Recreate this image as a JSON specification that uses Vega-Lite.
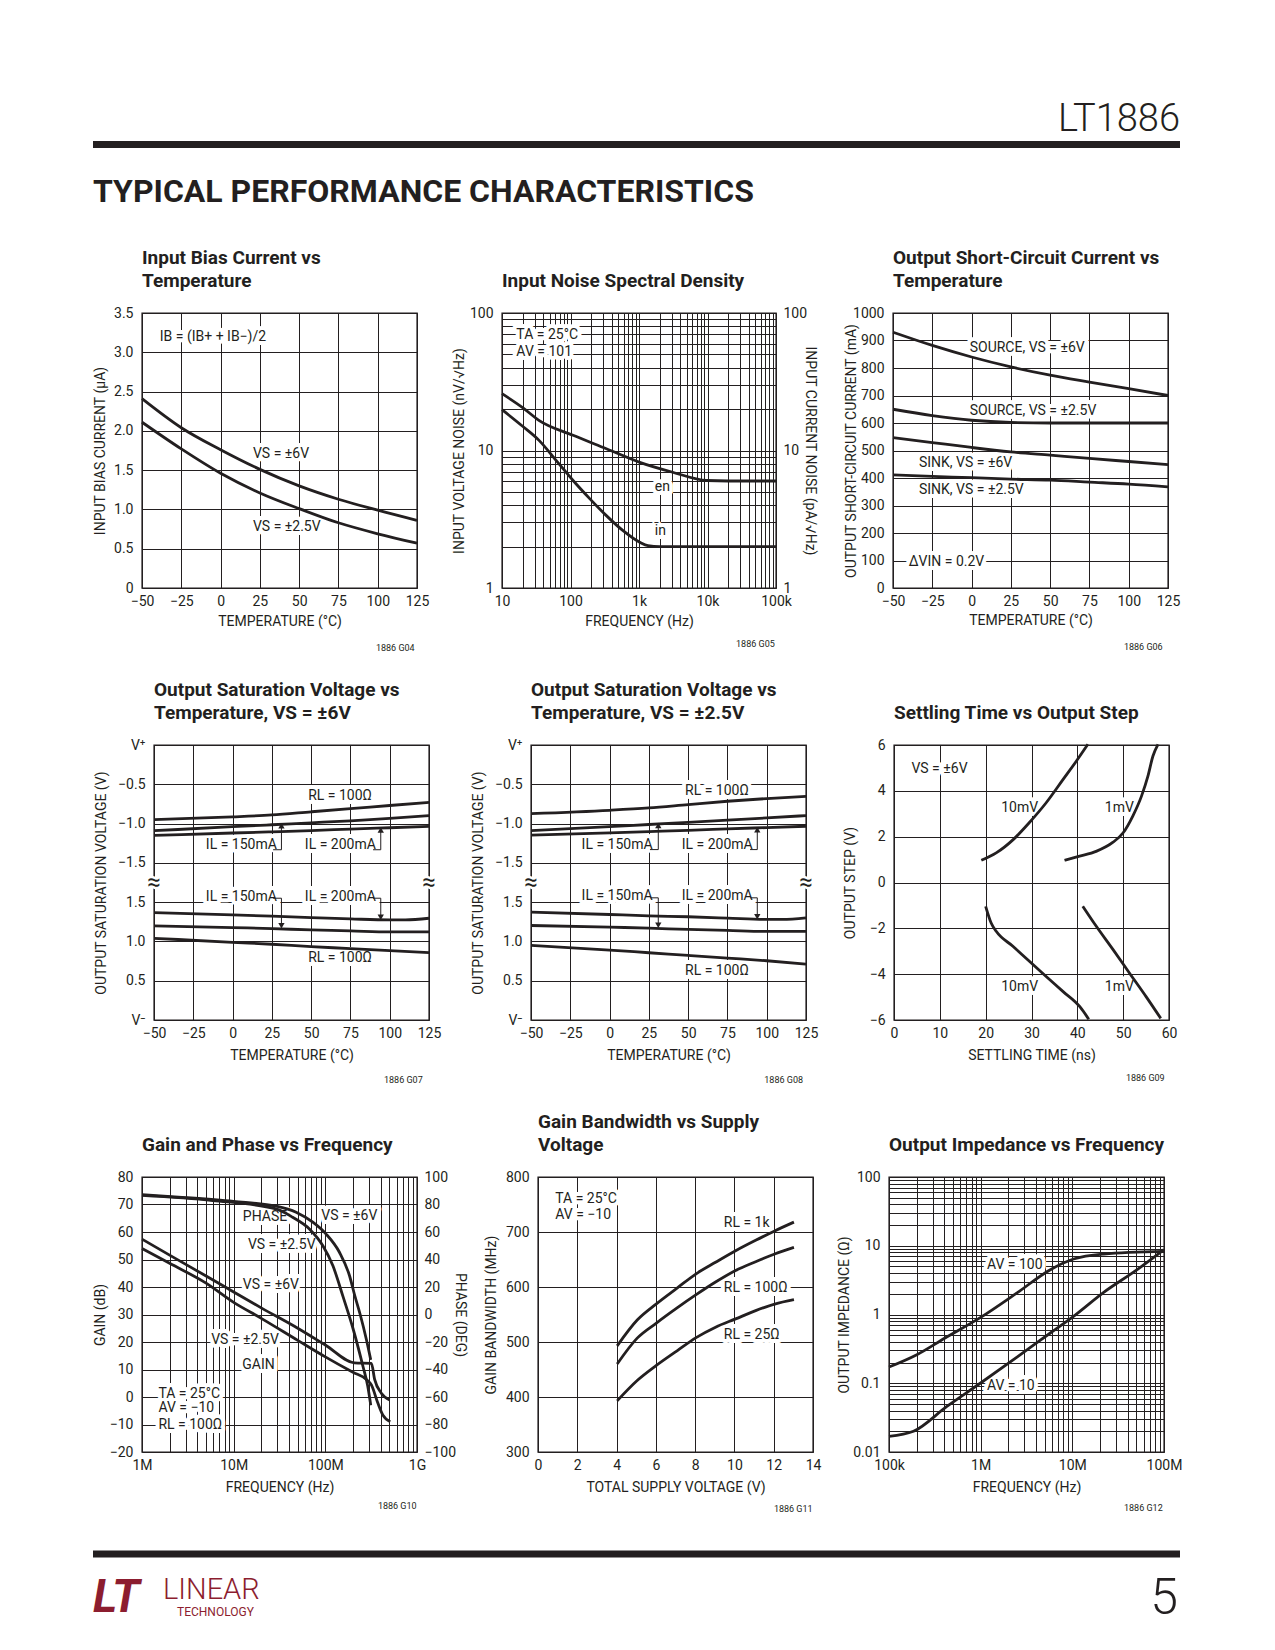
{
"$schema": "https://vega.github.io/schema/vega-lite/v6.json",
"background": "white",
"padding": {"left": 89, "top": 95, "right": 5, "bottom": 5},
"spacing": 26,
"datasets": {
"c1": [{"s":"6V","x":-50,"y":2.41},{"s":"6V","x":-25,"y":2.04},{"s":"6V","x":0,"y":1.76},{"s":"6V","x":25,"y":1.51},{"s":"6V","x":50,"y":1.3},{"s":"6V","x":75,"y":1.13},{"s":"6V","x":100,"y":0.99},{"s":"6V","x":125,"y":0.86},
{"s":"2.5V","x":-50,"y":2.11},{"s":"2.5V","x":-25,"y":1.77},{"s":"2.5V","x":0,"y":1.46},{"s":"2.5V","x":25,"y":1.21},{"s":"2.5V","x":50,"y":1.01},{"s":"2.5V","x":75,"y":0.83},{"s":"2.5V","x":100,"y":0.69},{"s":"2.5V","x":125,"y":0.57}],
"c1_lab": [{"x":-38.7,"y":3.19,"label":"IB = (IB+ + IB−)/2"},{"x":20.6,"y":1.7,"label":"VS = ±6V"},{"x":20.6,"y":0.78,"label":"VS = ±2.5V"}],
"c2_en": [{"x":10,"y":25.9},{"x":20,"y":20.5},{"x":35,"y":16.5},{"x":109,"y":12.9},{"x":334,"y":10.3},{"x":1026,"y":8.2},{"x":3100,"y":6.95},{"x":9700,"y":6.05},{"x":20000,"y":6.0},{"x":100000,"y":6.0}],
"c2_in": [{"x":10,"y":19.8},{"x":20,"y":15},{"x":35,"y":11.8},{"x":62,"y":8.45},{"x":109,"y":6.05},{"x":192,"y":4.45},{"x":334,"y":3.36},{"x":585,"y":2.61},{"x":1026,"y":2.15},{"x":1350,"y":2.03},{"x":2000,"y":2.0},{"x":100000,"y":2.0}],
"c2_lab": [{"x":16.2,"y":68.7,"label":"TA = 25°C"},{"x":16.2,"y":52,"label":"AV = 101"},{"x":1702,"y":5.41,"label":"en"},{"x":1702,"y":2.61,"label":"in"}],
"c3": [{"s":"src6","x":-50,"y":930},{"s":"src6","x":-25,"y":882},{"s":"src6","x":0,"y":840},{"s":"src6","x":25,"y":804},{"s":"src6","x":50,"y":774},{"s":"src6","x":75,"y":749},{"s":"src6","x":100,"y":725},{"s":"src6","x":125,"y":700},
{"s":"src25","x":-50,"y":650},{"s":"src25","x":-25,"y":627},{"s":"src25","x":0,"y":610},{"s":"src25","x":25,"y":602},{"s":"src25","x":50,"y":600},{"s":"src25","x":75,"y":600},{"s":"src25","x":100,"y":600},{"s":"src25","x":125,"y":600},
{"s":"snk6","x":-50,"y":547},{"s":"snk6","x":-25,"y":529},{"s":"snk6","x":0,"y":511},{"s":"snk6","x":25,"y":495},{"s":"snk6","x":50,"y":483},{"s":"snk6","x":75,"y":471},{"s":"snk6","x":100,"y":460},{"s":"snk6","x":125,"y":449},
{"s":"snk25","x":-50,"y":411},{"s":"snk25","x":-25,"y":406},{"s":"snk25","x":0,"y":401},{"s":"snk25","x":25,"y":396},{"s":"snk25","x":50,"y":392},{"s":"snk25","x":75,"y":385},{"s":"snk25","x":100,"y":378},{"s":"snk25","x":125,"y":368}],
"c3_lab": [{"x":-1.2,"y":873,"label":"SOURCE, VS = ±6V"},{"x":-1.2,"y":644,"label":"SOURCE, VS = ±2.5V"},{"x":-33.5,"y":454,"label":"SINK, VS = ±6V"},{"x":-33.5,"y":357,"label":"SINK, VS = ±2.5V"},{"x":-40,"y":94,"label":"ΔVIN = 0.2V"}],
"c4A": [{"s":"RL","x":-50,"y":-0.951},{"s":"RL","x":0,"y":-0.915},{"s":"RL","x":25,"y":-0.89},{"s":"RL","x":50,"y":-0.85},{"s":"RL","x":75,"y":-0.81},{"s":"RL","x":100,"y":-0.77},{"s":"RL","x":125,"y":-0.73},
{"s":"150","x":-50,"y":-1.091},{"s":"150","x":0,"y":-1.04},{"s":"150","x":25,"y":-1.015},{"s":"150","x":50,"y":-0.99},{"s":"150","x":75,"y":-0.965},{"s":"150","x":100,"y":-0.935},{"s":"150","x":125,"y":-0.9},
{"s":"200","x":-50,"y":-1.151},{"s":"200","x":0,"y":-1.12},{"s":"200","x":25,"y":-1.105},{"s":"200","x":50,"y":-1.09},{"s":"200","x":75,"y":-1.07},{"s":"200","x":100,"y":-1.053},{"s":"200","x":125,"y":-1.036}],
"c4B": [{"s":"200","x":-50,"y":1.367},{"s":"200","x":0,"y":1.338},{"s":"200","x":25,"y":1.321},{"s":"200","x":50,"y":1.304},{"s":"200","x":75,"y":1.287},{"s":"200","x":100,"y":1.274},{"s":"200","x":110,"y":1.274},{"s":"200","x":125,"y":1.295},
{"s":"150","x":-50,"y":1.197},{"s":"150","x":0,"y":1.176},{"s":"150","x":25,"y":1.163},{"s":"150","x":50,"y":1.146},{"s":"150","x":75,"y":1.134},{"s":"150","x":100,"y":1.121},{"s":"150","x":125,"y":1.121},
{"s":"RL","x":-50,"y":1.04},{"s":"RL","x":0,"y":0.989},{"s":"RL","x":25,"y":0.964},{"s":"RL","x":50,"y":0.934},{"s":"RL","x":75,"y":0.909},{"s":"RL","x":100,"y":0.883},{"s":"RL","x":125,"y":0.858}],
"c4_labA": [{"x":48.1,"y":-0.654,"label":"RL = 100Ω"},{"x":-17.0,"y":-1.27,"label":"IL = 150mA"},{"x":46.0,"y":-1.27,"label":"IL = 200mA"}],
"c4_ldA": [{"x":25.8,"y":-1.333,"x2":31.1,"y2":-1.333},{"x":31.1,"y":-1.333,"x2":31.1,"y2":-1.03},{"x":89.4,"y":-1.333,"x2":94.3,"y2":-1.333},{"x":94.3,"y":-1.333,"x2":94.3,"y2":-1.08}],
"c4_arA": [{"x":31.1,"y":-1.027},{"x":94.3,"y":-1.082}],
"c4_labB": [{"x":-17.0,"y":1.571,"label":"IL = 150mA"},{"x":46.0,"y":1.571,"label":"IL = 200mA"},{"x":48.1,"y":0.786,"label":"RL = 100Ω"}],
"c4_ldB": [{"x":25.8,"y":1.55,"x2":31.1,"y2":1.55},{"x":31.1,"y":1.55,"x2":31.1,"y2":1.2},{"x":89.4,"y":1.55,"x2":94.3,"y2":1.55},{"x":94.3,"y":1.55,"x2":94.3,"y2":1.307}],
"c4_arB": [{"x":31.1,"y":1.2},{"x":94.3,"y":1.307}],
"brk": [{"x":-50,"y":-1.75,"label":"≈"},{"x":125,"y":-1.75,"label":"≈"}],
"c5A": [{"s":"RL","x":-50,"y":-0.873},{"s":"RL","x":0,"y":-0.831},{"s":"RL","x":25,"y":-0.801},{"s":"RL","x":50,"y":-0.758},{"s":"RL","x":75,"y":-0.716},{"s":"RL","x":100,"y":-0.682},{"s":"RL","x":125,"y":-0.653},
{"s":"150","x":-50,"y":-1.089},{"s":"150","x":0,"y":-1.04},{"s":"150","x":25,"y":-1.012},{"s":"150","x":50,"y":-0.985},{"s":"150","x":75,"y":-0.957},{"s":"150","x":100,"y":-0.928},{"s":"150","x":125,"y":-0.898},
{"s":"200","x":-50,"y":-1.148},{"s":"200","x":0,"y":-1.118},{"s":"200","x":25,"y":-1.102},{"s":"200","x":50,"y":-1.087},{"s":"200","x":75,"y":-1.068},{"s":"200","x":100,"y":-1.051},{"s":"200","x":125,"y":-1.034}],
"c5B": [{"s":"200","x":-50,"y":1.373},{"s":"200","x":0,"y":1.343},{"s":"200","x":25,"y":1.326},{"s":"200","x":50,"y":1.314},{"s":"200","x":75,"y":1.297},{"s":"200","x":100,"y":1.28},{"s":"200","x":110,"y":1.28},{"s":"200","x":125,"y":1.301},
{"s":"150","x":-50,"y":1.203},{"s":"150","x":0,"y":1.182},{"s":"150","x":25,"y":1.169},{"s":"150","x":50,"y":1.153},{"s":"150","x":75,"y":1.14},{"s":"150","x":100,"y":1.127},{"s":"150","x":125,"y":1.127},
{"s":"RL","x":-50,"y":0.949},{"s":"RL","x":0,"y":0.89},{"s":"RL","x":25,"y":0.856},{"s":"RL","x":50,"y":0.822},{"s":"RL","x":75,"y":0.788},{"s":"RL","x":100,"y":0.754},{"s":"RL","x":125,"y":0.712}],
"c5_labA": [{"x":48.0,"y":-0.589,"label":"RL = 100Ω"},{"x":-17.8,"y":-1.267,"label":"IL = 150mA"},{"x":45.9,"y":-1.267,"label":"IL = 200mA"}],
"c5_ldA": [{"x":25.7,"y":-1.331,"x2":31.0,"y2":-1.331},{"x":31.0,"y":-1.331,"x2":31.0,"y2":-1.03},{"x":89.4,"y":-1.331,"x2":94.0,"y2":-1.331},{"x":94.0,"y":-1.331,"x2":94.0,"y2":-1.08}],
"c5_arA": [{"x":31.0,"y":-1.025},{"x":94.0,"y":-1.08}],
"c5_labB": [{"x":-17.8,"y":1.576,"label":"IL = 150mA"},{"x":45.9,"y":1.576,"label":"IL = 200mA"},{"x":48.0,"y":0.623,"label":"RL = 100Ω"}],
"c5_ldB": [{"x":25.7,"y":1.555,"x2":31.0,"y2":1.555},{"x":31.0,"y":1.555,"x2":31.0,"y2":1.207},{"x":89.4,"y":1.555,"x2":94.0,"y2":1.555},{"x":94.0,"y":1.555,"x2":94.0,"y2":1.313}],
"c5_arB": [{"x":31.0,"y":1.207},{"x":94.0,"y":1.313}],
"c6": [{"s":"10up","x":19.05,"y":0.97},{"s":"10up","x":22.3,"y":1.29},{"s":"10up","x":26.0,"y":1.87},{"s":"10up","x":29.6,"y":2.63},{"s":"10up","x":33.2,"y":3.48},{"s":"10up","x":36.9,"y":4.5},{"s":"10up","x":39.8,"y":5.3},{"s":"10up","x":42.3,"y":6.03},
{"s":"1up","x":37.2,"y":0.97},{"s":"1up","x":40.5,"y":1.15},{"s":"1up","x":44.1,"y":1.36},{"s":"1up","x":47.8,"y":1.76},{"s":"1up","x":50.0,"y":2.17},{"s":"1up","x":52.1,"y":2.9},{"s":"1up","x":54.0,"y":3.77},{"s":"1up","x":55.4,"y":4.64},{"s":"1up","x":56.5,"y":5.52},{"s":"1up","x":57.6,"y":6.03},
{"s":"10dn","x":20.0,"y":-1.04},{"s":"10dn","x":21.2,"y":-1.77},{"s":"10dn","x":22.3,"y":-2.13},{"s":"10dn","x":26.0,"y":-2.79},{"s":"10dn","x":29.6,"y":-3.45},{"s":"10dn","x":33.2,"y":-4.1},{"s":"10dn","x":36.9,"y":-4.76},{"s":"10dn","x":40.5,"y":-5.41},{"s":"10dn","x":42.5,"y":-5.97},
{"s":"1dn","x":41.2,"y":-1.04},{"s":"1dn","x":44.1,"y":-1.9},{"s":"1dn","x":47.8,"y":-2.93},{"s":"1dn","x":51.4,"y":-3.96},{"s":"1dn","x":55.0,"y":-4.98},{"s":"1dn","x":58.2,"y":-5.93}],
"c6_lab": [{"x":3.8,"y":4.94,"label":"VS = ±6V"},{"x":23.4,"y":3.26,"label":"10mV"},{"x":46.0,"y":3.26,"label":"1mV"},{"x":23.4,"y":-4.54,"label":"10mV"},{"x":46.0,"y":-4.54,"label":"1mV"}],
"c7g": [{"s":"g6","x":1000000,"y":57.4},{"s":"g6","x":2000000,"y":51.6},{"s":"g6","x":5000000,"y":44},{"s":"g6","x":10000000,"y":38.2},{"s":"g6","x":20000000,"y":32.4},{"s":"g6","x":50000000,"y":25},{"s":"g6","x":100000000,"y":18.9},{"s":"g6","x":208000000,"y":12.4},{"s":"g6","x":318000000,"y":12.2},{"s":"g6","x":345000000,"y":6.4},{"s":"g6","x":408000000,"y":1.4},{"s":"g6","x":504000000,"y":-1.1},
{"s":"g25","x":1000000,"y":54},{"s":"g25","x":2000000,"y":48.6},{"s":"g25","x":5000000,"y":41.4},{"s":"g25","x":10000000,"y":34.4},{"s":"g25","x":20000000,"y":28.6},{"s":"g25","x":50000000,"y":20.6},{"s":"g25","x":100000000,"y":14.6},{"s":"g25","x":200000000,"y":9.0},{"s":"g25","x":280000000,"y":6.4},{"s":"g25","x":318000000,"y":4.4},{"s":"g25","x":375000000,"y":-2.3},{"s":"g25","x":425000000,"y":-6.6},{"s":"g25","x":511000000,"y":-9}],
"c7p": [{"s":"p6","x":1000000,"y":87.1},{"s":"p6","x":3000000,"y":85},{"s":"p6","x":10000000,"y":82.2},{"s":"p6","x":29000000,"y":78.8},{"s":"p6","x":48000000,"y":74.4},{"s":"p6","x":73000000,"y":67.1},{"s":"p6","x":102000000,"y":58.5},{"s":"p6","x":143000000,"y":45.1},{"s":"p6","x":184000000,"y":28},{"s":"p6","x":209000000,"y":14},{"s":"p6","x":240000000,"y":0},{"s":"p6","x":280000000,"y":-18},{"s":"p6","x":313000000,"y":-33},
{"s":"p25","x":1000000,"y":86.6},{"s":"p25","x":5900000,"y":82.9},{"s":"p25","x":29000000,"y":76.8},{"s":"p25","x":44000000,"y":70.7},{"s":"p25","x":67000000,"y":62.2},{"s":"p25","x":94000000,"y":50},{"s":"p25","x":121000000,"y":35.4},{"s":"p25","x":156000000,"y":13},{"s":"p25","x":200000000,"y":-10},{"s":"p25","x":258000000,"y":-38},{"s":"p25","x":290000000,"y":-52},{"s":"p25","x":313000000,"y":-66}],
"c7_lab": [{"x":12600000,"y":65.4,"label":"PHASE"},{"x":90200000,"y":65.7,"label":"VS = ±6V"},{"x":14300000,"y":55.2,"label":"VS = ±2.5V"},{"x":12600000,"y":40.6,"label":"VS = ±6V"},{"x":5680000,"y":20.9,"label":"VS = ±2.5V"},{"x":12400000,"y":11.5,"label":"GAIN"},{"x":1510000,"y":1.1,"label":"TA = 25°C"},{"x":1510000,"y":-3.9,"label":"AV = −10"},{"x":1510000,"y":-10.2,"label":"RL = 100Ω"}],
"c8": [{"s":"1k","x":4.03,"y":493},{"s":"1k","x":5.05,"y":540},{"s":"1k","x":6.01,"y":569},{"s":"1k","x":7.08,"y":598},{"s":"1k","x":8.05,"y":624},{"s":"1k","x":9.04,"y":645},{"s":"1k","x":10.06,"y":666},{"s":"1k","x":11.08,"y":685},{"s":"1k","x":12.05,"y":702},{"s":"1k","x":13.03,"y":718},
{"s":"100","x":4.03,"y":460},{"s":"100","x":5.05,"y":507},{"s":"100","x":6.01,"y":534},{"s":"100","x":7.08,"y":562},{"s":"100","x":8.05,"y":586},{"s":"100","x":9.04,"y":609},{"s":"100","x":10.06,"y":630},{"s":"100","x":11.08,"y":646},{"s":"100","x":12.05,"y":660},{"s":"100","x":13.03,"y":672},
{"s":"25","x":4.03,"y":393},{"s":"25","x":5.05,"y":430},{"s":"25","x":6.01,"y":457},{"s":"25","x":7.08,"y":484},{"s":"25","x":8.05,"y":508},{"s":"25","x":9.04,"y":527},{"s":"25","x":10.06,"y":542},{"s":"25","x":11.08,"y":557},{"s":"25","x":12.05,"y":569},{"s":"25","x":13.03,"y":577}],
"c8_lab": [{"x":0.88,"y":760.5,"label":"TA = 25°C"},{"x":0.88,"y":730.1,"label":"AV = −10"},{"x":9.46,"y":716.2,"label":"RL = 1k"},{"x":9.46,"y":597.7,"label":"RL = 100Ω"},{"x":9.46,"y":512.6,"label":"RL = 25Ω"}],
"c9": [{"s":"100","x":100000,"y":0.172},{"s":"100","x":201000,"y":0.26},{"s":"100","x":409000,"y":0.455},{"s":"100","x":989000,"y":0.9},{"s":"100","x":2490000,"y":2.06},{"s":"100","x":5760000,"y":4.49},{"s":"100","x":10300000,"y":6.41},{"s":"100","x":22000000,"y":7.59},{"s":"100","x":100000000,"y":8.3},
{"s":"10","x":100000,"y":0.0169},{"s":"10","x":185000,"y":0.02},{"s":"10","x":428000,"y":0.046},{"s":"10","x":990000,"y":0.1},{"s":"10","x":2490000,"y":0.24},{"s":"10","x":5760000,"y":0.538},{"s":"10","x":10300000,"y":0.94},{"s":"10","x":22000000,"y":2.1},{"s":"10","x":51000000,"y":4.49},{"s":"10","x":100000000,"y":8.77}],
"c9_lab": [{"x":1170000,"y":5.31,"label":"AV = 100"},{"x":1170000,"y":0.0902,"label":"AV = 10"}]
},
"vconcat": [
{
"width": 1039, "height": 127, "view": {"stroke": null},
"encoding": {
"x": {"field": "x", "type": "quantitative", "scale": {"domain": [48, 1087], "nice": false, "zero": false}, "axis": null},
"y": {"field": "y", "type": "quantitative", "scale": {"domain": [127, 0], "nice": false, "zero": false}, "axis": null}},
"layer": [
{"data": {"values": [{"x": 0, "x2": 1087, "y": 49.5}]}, "mark": {"type": "rule", "strokeWidth": 7, "color": "#231f20"}, "encoding": {"x2": {"field": "x2"}}},
{"data": {"values": [{"x": 1087, "y": 36, "label": "LT1886"}]}, "mark": {"type": "text", "align": "right", "baseline": "alphabetic", "fontSize": 38, "fontWeight": 300, "color": "#231f20"}, "encoding": {"text": {"field": "label"}}},
{"data": {"values": [{"x": 0, "y": 107, "label": "TYPICAL PERFORMANCE CHARACTERISTICS"}]}, "mark": {"type": "text", "align": "left", "baseline": "alphabetic", "fontSize": 32, "fontWeight": "bold", "color": "#231f20"}, "encoding": {"text": {"field": "label"}}}
]},
{
"bounds": "flush", "spacing": 0,
"hconcat": [
{"width": 1, "height": 10, "data": {"values": []}, "mark": {"type": "point", "opacity": 0}, "view": {"stroke": null}},
{
"width": 275, "height": 275,
"title": {"text": ["Input Bias Current vs", "Temperature"]},
"encoding": {
"x": {"field": "x", "type": "quantitative", "scale": {"domain": [-50, 125], "nice": false, "zero": false}, "axis": {"title": "TEMPERATURE (°C)", "values": [-50,-25,0,25,50,75,100,125], "minExtent": 26, "maxExtent": 26}},
"y": {"field": "y", "type": "quantitative", "scale": {"domain": [0, 3.5], "nice": false, "zero": false}, "axis": {"title": "INPUT BIAS CURRENT (µA)", "values": [0,0.5,1,1.5,2,2.5,3,3.5], "labelExpr": "datum.value == 0 ? '0' : format(datum.value, '.1f')", "minExtent": 35, "maxExtent": 35}}},
"layer": [
{"data": {"name": "c1_lab"}, "mark": {"type": "text", "align": "left", "baseline": "middle", "fontSize": 14, "fill": "white", "stroke": "white", "strokeWidth": 8, "strokeJoin": "round"}, "encoding": {"text": {"field": "label"}}},
{"data": {"name": "c1"}, "mark": {"type": "line", "interpolate": "monotone"}, "encoding": {"detail": {"field": "s"}}},
{"data": {"name": "c1_lab"}, "mark": {"type": "text", "align": "left", "baseline": "middle", "fontSize": 14}, "encoding": {"text": {"field": "label"}}},
{"data": {"values": [{"x": 123.5, "y": -0.764, "label": "1886 G04"}]}, "mark": {"type": "text", "align": "right", "baseline": "middle", "fontSize": 9}, "encoding": {"text": {"field": "label"}}}
]},
{"width": 85, "height": 10, "data": {"values": []}, "mark": {"type": "point", "opacity": 0}, "view": {"stroke": null}},
{
"width": 274, "height": 275,
"title": {"text": "Input Noise Spectral Density"},
"encoding": {
"x": {"field": "x", "type": "quantitative", "scale": {"type": "log", "domain": [10, 100000], "nice": false}, "axis": {"title": "FREQUENCY (Hz)", "values": [10,20,30,40,50,60,70,80,90,100,200,300,400,500,600,700,800,900,1000,2000,3000,4000,5000,6000,7000,8000,9000,10000,20000,30000,40000,50000,60000,70000,80000,90000,100000], "labelExpr": "datum.value == 10 ? '10' : datum.value == 100 ? '100' : datum.value == 1000 ? '1k' : datum.value == 10000 ? '10k' : datum.value == 100000 ? '100k' : ''", "minExtent": 26, "maxExtent": 26}}},
"resolve": {"scale": {"y": "independent"}},
"layer": [
{
"encoding": {"y": {"field": "y", "type": "quantitative", "scale": {"type": "log", "domain": [1, 100], "nice": false}, "axis": {"orient": "left", "title": "INPUT VOLTAGE NOISE (nV/√Hz)", "values": [1,2,3,4,5,6,7,8,9,10,20,30,40,50,60,70,80,90,100], "labelExpr": "datum.value == 1 ? '1' : datum.value == 10 ? '10' : datum.value == 100 ? '100' : ''", "minExtent": 36, "maxExtent": 36}}},
"layer": [
{"data": {"name": "c2_lab"}, "mark": {"type": "text", "align": "left", "baseline": "middle", "fontSize": 14, "fill": "white", "stroke": "white", "strokeWidth": 8, "strokeJoin": "round"}, "encoding": {"text": {"field": "label"}}},
{"data": {"name": "c2_en"}, "mark": {"type": "line", "interpolate": "monotone"}, "encoding": {}},
{"data": {"name": "c2_lab"}, "mark": {"type": "text", "align": "left", "baseline": "middle", "fontSize": 14}, "encoding": {"text": {"field": "label"}}},
{"data": {"values": [{"x": 95900, "y": 0.391, "label": "1886 G05"}]}, "mark": {"type": "text", "align": "right", "baseline": "middle", "fontSize": 9}, "encoding": {"text": {"field": "label"}}}
]},
{
"encoding": {"y": {"field": "y", "type": "quantitative", "scale": {"type": "log", "domain": [1, 100], "nice": false}, "axis": {"orient": "right", "title": "INPUT CURRENT NOISE (pA/√Hz)", "values": [1,10,100], "grid": false, "minExtent": 26, "maxExtent": 26}}},
"layer": [
{"data": {"name": "c2_in"}, "mark": {"type": "line", "interpolate": "monotone"}, "encoding": {}}
]}
]},
{"width": 117, "height": 10, "data": {"values": []}, "mark": {"type": "point", "opacity": 0}, "view": {"stroke": null}},
{
"width": 275, "height": 275,
"title": {"text": ["Output Short-Circuit Current vs", "Temperature"]},
"encoding": {
"x": {"field": "x", "type": "quantitative", "scale": {"domain": [-50, 125], "nice": false, "zero": false}, "axis": {"title": "TEMPERATURE (°C)", "values": [-50,-25,0,25,50,75,100,125], "minExtent": 25, "maxExtent": 25}},
"y": {"field": "y", "type": "quantitative", "scale": {"domain": [0, 1000], "nice": false, "zero": false}, "axis": {"title": "OUTPUT SHORT-CIRCUIT CURRENT (mA)", "values": [0,100,200,300,400,500,600,700,800,900,1000], "format": "d", "minExtent": 35, "maxExtent": 35}}},
"layer": [
{"data": {"name": "c3_lab"}, "mark": {"type": "text", "align": "left", "baseline": "middle", "fontSize": 14, "fill": "white", "stroke": "white", "strokeWidth": 8, "strokeJoin": "round"}, "encoding": {"text": {"field": "label"}}},
{"data": {"name": "c3"}, "mark": {"type": "line", "interpolate": "monotone"}, "encoding": {"detail": {"field": "s"}}},
{"data": {"name": "c3_lab"}, "mark": {"type": "text", "align": "left", "baseline": "middle", "fontSize": 14}, "encoding": {"text": {"field": "label"}}},
{"data": {"values": [{"x": 121.6, "y": -214, "label": "1886 G06"}]}, "mark": {"type": "text", "align": "right", "baseline": "middle", "fontSize": 9}, "encoding": {"text": {"field": "label"}}}
]}
]},
{
"bounds": "flush", "spacing": 0,
"hconcat": [
{"width": 13, "height": 10, "data": {"values": []}, "mark": {"type": "point", "opacity": 0}, "view": {"stroke": null}},
{
"width": 275, "height": 275,
"title": {"text": ["Output Saturation Voltage vs", "Temperature, VS = ±6V"]},
"encoding": {
"x": {"field": "x", "type": "quantitative", "scale": {"domain": [-50, 125], "nice": false, "zero": false}, "axis": {"title": "TEMPERATURE (°C)", "values": [-50,-25,0,25,50,75,100,125], "minExtent": 28, "maxExtent": 28}}},
"resolve": {"scale": {"y": "independent"}},
"layer": [
{
"encoding": {"y": {"field": "y", "type": "quantitative", "scale": {"domain": [-3.5, 0], "nice": false, "zero": false}, "axis": {"orient": "left", "title": "OUTPUT SATURATION VOLTAGE (V)", "values": [-3.5,-3,-2.5,-2,-1.5,-1,-0.5,0], "labelExpr": "datum.value == 0 ? 'V⁺' : datum.value == -0.5 ? '−0.5' : datum.value == -1 ? '−1.0' : datum.value == -1.5 ? '−1.5' : datum.value == -2 ? '1.5' : datum.value == -2.5 ? '1.0' : datum.value == -3 ? '0.5' : 'V⁻'", "minExtent": 46, "maxExtent": 46}}},
"layer": [
{"data": {"name": "c4_labA"}, "mark": {"type": "text", "align": "left", "baseline": "middle", "fontSize": 14, "fill": "white", "stroke": "white", "strokeWidth": 8, "strokeJoin": "round"}, "encoding": {"text": {"field": "label"}}},
{"data": {"name": "brk"}, "mark": {"type": "text", "align": "center", "baseline": "middle", "fontSize": 24, "fill": "white", "stroke": "white", "strokeWidth": 5}, "encoding": {"text": {"field": "label"}}},
{"data": {"name": "c4A"}, "mark": {"type": "line", "interpolate": "monotone"}, "encoding": {"detail": {"field": "s"}}},
{"data": {"name": "c4_ldA"}, "mark": {"type": "rule", "strokeWidth": 1}, "encoding": {"x2": {"field": "x2"}, "y2": {"field": "y2"}}},
{"data": {"name": "c4_arA"}, "mark": {"type": "point", "shape": "triangle-up", "filled": true, "size": 40, "opacity": 1, "color": "#231f20"}, "encoding": {}},
{"data": {"name": "c4_labA"}, "mark": {"type": "text", "align": "left", "baseline": "middle", "fontSize": 14}, "encoding": {"text": {"field": "label"}}},
{"data": {"name": "brk"}, "mark": {"type": "text", "align": "center", "baseline": "middle", "fontSize": 24}, "encoding": {"text": {"field": "label"}}},
{"data": {"values": [{"x": 121, "y": -4.266, "label": "1886 G07"}]}, "mark": {"type": "text", "align": "right", "baseline": "middle", "fontSize": 9}, "encoding": {"text": {"field": "label"}}}
]},
{
"encoding": {"y": {"field": "y", "type": "quantitative", "scale": {"domain": [0, 3.5], "nice": false, "zero": false}, "axis": null}},
"layer": [
{"data": {"name": "c4_labB"}, "mark": {"type": "text", "align": "left", "baseline": "middle", "fontSize": 14, "fill": "white", "stroke": "white", "strokeWidth": 8, "strokeJoin": "round"}, "encoding": {"text": {"field": "label"}}},
{"data": {"name": "c4B"}, "mark": {"type": "line", "interpolate": "monotone"}, "encoding": {"detail": {"field": "s"}}},
{"data": {"name": "c4_ldB"}, "mark": {"type": "rule", "strokeWidth": 1}, "encoding": {"x2": {"field": "x2"}, "y2": {"field": "y2"}}},
{"data": {"name": "c4_arB"}, "mark": {"type": "point", "shape": "triangle-down", "filled": true, "size": 40, "opacity": 1, "color": "#231f20"}, "encoding": {}},
{"data": {"name": "c4_labB"}, "mark": {"type": "text", "align": "left", "baseline": "middle", "fontSize": 14}, "encoding": {"text": {"field": "label"}}}
]}
]},
{"width": 102, "height": 10, "data": {"values": []}, "mark": {"type": "point", "opacity": 0}, "view": {"stroke": null}},
{
"width": 275, "height": 275,
"title": {"text": ["Output Saturation Voltage vs", "Temperature, VS = ±2.5V"]},
"encoding": {
"x": {"field": "x", "type": "quantitative", "scale": {"domain": [-50, 125], "nice": false, "zero": false}, "axis": {"title": "TEMPERATURE (°C)", "values": [-50,-25,0,25,50,75,100,125], "minExtent": 28, "maxExtent": 28}}},
"resolve": {"scale": {"y": "independent"}},
"layer": [
{
"encoding": {"y": {"field": "y", "type": "quantitative", "scale": {"domain": [-3.5, 0], "nice": false, "zero": false}, "axis": {"orient": "left", "title": "OUTPUT SATURATION VOLTAGE (V)", "values": [-3.5,-3,-2.5,-2,-1.5,-1,-0.5,0], "labelExpr": "datum.value == 0 ? 'V⁺' : datum.value == -0.5 ? '−0.5' : datum.value == -1 ? '−1.0' : datum.value == -1.5 ? '−1.5' : datum.value == -2 ? '1.5' : datum.value == -2.5 ? '1.0' : datum.value == -3 ? '0.5' : 'V⁻'", "minExtent": 46, "maxExtent": 46}}},
"layer": [
{"data": {"name": "c5_labA"}, "mark": {"type": "text", "align": "left", "baseline": "middle", "fontSize": 14, "fill": "white", "stroke": "white", "strokeWidth": 8, "strokeJoin": "round"}, "encoding": {"text": {"field": "label"}}},
{"data": {"name": "brk"}, "mark": {"type": "text", "align": "center", "baseline": "middle", "fontSize": 24, "fill": "white", "stroke": "white", "strokeWidth": 5}, "encoding": {"text": {"field": "label"}}},
{"data": {"name": "c5A"}, "mark": {"type": "line", "interpolate": "monotone"}, "encoding": {"detail": {"field": "s"}}},
{"data": {"name": "c5_ldA"}, "mark": {"type": "rule", "strokeWidth": 1}, "encoding": {"x2": {"field": "x2"}, "y2": {"field": "y2"}}},
{"data": {"name": "c5_arA"}, "mark": {"type": "point", "shape": "triangle-up", "filled": true, "size": 40, "opacity": 1, "color": "#231f20"}, "encoding": {}},
{"data": {"name": "c5_labA"}, "mark": {"type": "text", "align": "left", "baseline": "middle", "fontSize": 14}, "encoding": {"text": {"field": "label"}}},
{"data": {"name": "brk"}, "mark": {"type": "text", "align": "center", "baseline": "middle", "fontSize": 24}, "encoding": {"text": {"field": "label"}}},
{"data": {"values": [{"x": 123.1, "y": -4.266, "label": "1886 G08"}]}, "mark": {"type": "text", "align": "right", "baseline": "middle", "fontSize": 9}, "encoding": {"text": {"field": "label"}}}
]},
{
"encoding": {"y": {"field": "y", "type": "quantitative", "scale": {"domain": [0, 3.5], "nice": false, "zero": false}, "axis": null}},
"layer": [
{"data": {"name": "c5_labB"}, "mark": {"type": "text", "align": "left", "baseline": "middle", "fontSize": 14, "fill": "white", "stroke": "white", "strokeWidth": 8, "strokeJoin": "round"}, "encoding": {"text": {"field": "label"}}},
{"data": {"name": "c5B"}, "mark": {"type": "line", "interpolate": "monotone"}, "encoding": {"detail": {"field": "s"}}},
{"data": {"name": "c5_ldB"}, "mark": {"type": "rule", "strokeWidth": 1}, "encoding": {"x2": {"field": "x2"}, "y2": {"field": "y2"}}},
{"data": {"name": "c5_arB"}, "mark": {"type": "point", "shape": "triangle-down", "filled": true, "size": 40, "opacity": 1, "color": "#231f20"}, "encoding": {}},
{"data": {"name": "c5_labB"}, "mark": {"type": "text", "align": "left", "baseline": "middle", "fontSize": 14}, "encoding": {"text": {"field": "label"}}}
]}
]},
{"width": 88, "height": 10, "data": {"values": []}, "mark": {"type": "point", "opacity": 0}, "view": {"stroke": null}},
{
"width": 275, "height": 275,
"title": {"text": "Settling Time vs Output Step"},
"encoding": {
"x": {"field": "x", "type": "quantitative", "scale": {"domain": [0, 60], "nice": false, "zero": false}, "axis": {"title": "SETTLING TIME (ns)", "values": [0,10,20,30,40,50,60], "minExtent": 28, "maxExtent": 28}},
"y": {"field": "y", "type": "quantitative", "scale": {"domain": [-6, 6], "nice": false, "zero": false}, "axis": {"title": "OUTPUT STEP (V)", "values": [-6,-4,-2,0,2,4,6], "minExtent": 37, "maxExtent": 37}}},
"layer": [
{"data": {"name": "c6_lab"}, "mark": {"type": "text", "align": "left", "baseline": "middle", "fontSize": 14, "fill": "white", "stroke": "white", "strokeWidth": 8, "strokeJoin": "round"}, "encoding": {"text": {"field": "label"}}},
{"data": {"name": "c6"}, "mark": {"type": "line", "interpolate": "monotone"}, "encoding": {"detail": {"field": "s"}}},
{"data": {"name": "c6_lab"}, "mark": {"type": "text", "align": "left", "baseline": "middle", "fontSize": 14}, "encoding": {"text": {"field": "label"}}},
{"data": {"values": [{"x": 59.05, "y": -8.53, "label": "1886 G09"}]}, "mark": {"type": "text", "align": "right", "baseline": "middle", "fontSize": 9}, "encoding": {"text": {"field": "label"}}}
]}
]},
{
"bounds": "flush", "spacing": 0,
"hconcat": [
{"width": 1, "height": 10, "data": {"values": []}, "mark": {"type": "point", "opacity": 0}, "view": {"stroke": null}},
{
"width": 275, "height": 275,
"title": {"text": "Gain and Phase vs Frequency"},
"encoding": {
"x": {"field": "x", "type": "quantitative", "scale": {"type": "log", "domain": [1000000, 1000000000], "nice": false}, "axis": {"title": "FREQUENCY (Hz)", "values": [1000000,2000000,3000000,4000000,5000000,6000000,7000000,8000000,9000000,10000000,20000000,30000000,40000000,50000000,60000000,70000000,80000000,90000000,100000000,200000000,300000000,400000000,500000000,600000000,700000000,800000000,900000000,1000000000], "labelExpr": "datum.value == 1000000 ? '1M' : datum.value == 10000000 ? '10M' : datum.value == 100000000 ? '100M' : datum.value == 1000000000 ? '1G' : ''", "minExtent": 28, "maxExtent": 28}}},
"resolve": {"scale": {"y": "independent"}},
"layer": [
{
"encoding": {"y": {"field": "y", "type": "quantitative", "scale": {"domain": [-20, 80], "nice": false, "zero": false}, "axis": {"orient": "left", "title": "GAIN (dB)", "values": [-20,-10,0,10,20,30,40,50,60,70,80], "minExtent": 35, "maxExtent": 35}}},
"layer": [
{"data": {"name": "c7_lab"}, "mark": {"type": "text", "align": "left", "baseline": "middle", "fontSize": 14, "fill": "white", "stroke": "white", "strokeWidth": 8, "strokeJoin": "round"}, "encoding": {"text": {"field": "label"}}},
{"data": {"name": "c7g"}, "mark": {"type": "line", "interpolate": "monotone"}, "encoding": {"detail": {"field": "s"}}},
{"data": {"name": "c7_lab"}, "mark": {"type": "text", "align": "left", "baseline": "middle", "fontSize": 14}, "encoding": {"text": {"field": "label"}}},
{"data": {"values": [{"x": 990000000, "y": -39.5, "label": "1886 G10"}]}, "mark": {"type": "text", "align": "right", "baseline": "middle", "fontSize": 9}, "encoding": {"text": {"field": "label"}}}
]},
{
"encoding": {"y": {"field": "y", "type": "quantitative", "scale": {"domain": [-100, 100], "nice": false, "zero": false}, "axis": {"orient": "right", "title": "PHASE (DEG)", "values": [-100,-80,-60,-40,-20,0,20,40,60,80,100], "grid": false, "minExtent": 35, "maxExtent": 35}}},
"layer": [
{"data": {"name": "c7p"}, "mark": {"type": "line", "interpolate": "monotone"}, "encoding": {"detail": {"field": "s"}}}
]}
]},
{"width": 121, "height": 10, "data": {"values": []}, "mark": {"type": "point", "opacity": 0}, "view": {"stroke": null}},
{
"width": 275, "height": 275,
"title": {"text": ["Gain Bandwidth vs Supply", "Voltage"]},
"encoding": {
"x": {"field": "x", "type": "quantitative", "scale": {"domain": [0, 14], "nice": false, "zero": false}, "axis": {"title": "TOTAL SUPPLY VOLTAGE (V)", "values": [0,2,4,6,8,10,12,14], "minExtent": 28, "maxExtent": 28}},
"y": {"field": "y", "type": "quantitative", "scale": {"domain": [300, 800], "nice": false, "zero": false}, "axis": {"title": "GAIN BANDWIDTH (MHz)", "values": [300,400,500,600,700,800], "minExtent": 40, "maxExtent": 40}}},
"layer": [
{"data": {"name": "c8_lab"}, "mark": {"type": "text", "align": "left", "baseline": "middle", "fontSize": 14, "fill": "white", "stroke": "white", "strokeWidth": 8, "strokeJoin": "round"}, "encoding": {"text": {"field": "label"}}},
{"data": {"name": "c8"}, "mark": {"type": "line", "interpolate": "monotone"}, "encoding": {"detail": {"field": "s"}}},
{"data": {"name": "c8_lab"}, "mark": {"type": "text", "align": "left", "baseline": "middle", "fontSize": 14}, "encoding": {"text": {"field": "label"}}},
{"data": {"values": [{"x": 13.98, "y": 196, "label": "1886 G11"}]}, "mark": {"type": "text", "align": "right", "baseline": "middle", "fontSize": 9}, "encoding": {"text": {"field": "label"}}}
]},
{"width": 76, "height": 10, "data": {"values": []}, "mark": {"type": "point", "opacity": 0}, "view": {"stroke": null}},
{
"width": 275, "height": 275,
"title": {"text": "Output Impedance vs Frequency"},
"encoding": {
"x": {"field": "x", "type": "quantitative", "scale": {"type": "log", "domain": [100000, 100000000], "nice": false}, "axis": {"title": "FREQUENCY (Hz)", "values": [100000,200000,300000,400000,500000,600000,700000,800000,900000,1000000,2000000,3000000,4000000,5000000,6000000,7000000,8000000,9000000,10000000,20000000,30000000,40000000,50000000,60000000,70000000,80000000,90000000,100000000], "labelExpr": "datum.value == 100000 ? '100k' : datum.value == 1000000 ? '1M' : datum.value == 10000000 ? '10M' : datum.value == 100000000 ? '100M' : ''", "minExtent": 28, "maxExtent": 28}},
"y": {"field": "y", "type": "quantitative", "scale": {"type": "log", "domain": [0.01, 100], "nice": false}, "axis": {"title": "OUTPUT IMPEDANCE (Ω)", "values": [0.01,0.02,0.03,0.04,0.05,0.06,0.07,0.08,0.09,0.1,0.2,0.3,0.4,0.5,0.6,0.7,0.8,0.9,1,2,3,4,5,6,7,8,9,10,20,30,40,50,60,70,80,90,100], "labelExpr": "datum.value == 0.01 ? '0.01' : datum.value == 0.1 ? '0.1' : datum.value == 1 ? '1' : datum.value == 10 ? '10' : datum.value == 100 ? '100' : ''", "minExtent": 38, "maxExtent": 38}}},
"layer": [
{"data": {"name": "c9_lab"}, "mark": {"type": "text", "align": "left", "baseline": "middle", "fontSize": 14, "fill": "white", "stroke": "white", "strokeWidth": 8, "strokeJoin": "round"}, "encoding": {"text": {"field": "label"}}},
{"data": {"name": "c9"}, "mark": {"type": "line", "interpolate": "monotone"}, "encoding": {"detail": {"field": "s"}}},
{"data": {"name": "c9_lab"}, "mark": {"type": "text", "align": "left", "baseline": "middle", "fontSize": 14}, "encoding": {"text": {"field": "label"}}},
{"data": {"values": [{"x": 96800000, "y": 0.00155, "label": "1886 G12"}]}, "mark": {"type": "text", "align": "right", "baseline": "middle", "fontSize": 9}, "encoding": {"text": {"field": "label"}}}
]}
]},
{
"width": 1039, "height": 83, "view": {"stroke": null},
"encoding": {
"x": {"field": "x", "type": "quantitative", "scale": {"domain": [48, 1087], "nice": false, "zero": false}, "axis": null},
"y": {"field": "y", "type": "quantitative", "scale": {"domain": [83, 0], "nice": false, "zero": false}, "axis": null}},
"layer": [
{"data": {"values": [{"x": 0, "x2": 1087, "y": 12.9}]}, "mark": {"type": "rule", "strokeWidth": 7, "color": "#231f20"}, "encoding": {"x2": {"field": "x2"}}},
{"data": {"values": [{"x": 1085, "y": 73.4, "label": "5"}]}, "mark": {"type": "text", "align": "right", "baseline": "alphabetic", "fontSize": 50, "fontWeight": 300, "color": "#231f20"}, "encoding": {"text": {"field": "label"}}},
{"data": {"values": [{"x": 0, "y": 71.4, "label": "LT"}]}, "mark": {"type": "text", "align": "left", "baseline": "alphabetic", "fontSize": 46, "fontWeight": "bold", "fontStyle": "italic", "color": "#8c1d2f"}, "encoding": {"text": {"field": "label"}}},
{"data": {"values": [{"x": 70, "y": 58, "label": "LINEAR"}]}, "mark": {"type": "text", "align": "left", "baseline": "alphabetic", "fontSize": 29, "fontWeight": 300, "color": "#8c1d2f"}, "encoding": {"text": {"field": "label"}}},
{"data": {"values": [{"x": 84, "y": 74.5, "label": "TECHNOLOGY"}]}, "mark": {"type": "text", "align": "left", "baseline": "alphabetic", "fontSize": 12, "color": "#8c1d2f"}, "encoding": {"text": {"field": "label"}}}
]}
],
"config": {
"font": "Roboto, sans-serif",
"view": {"stroke": "#231f20", "strokeWidth": 1.4},
"axis": {"domain": false, "ticks": false, "tickSize": 0, "grid": true, "gridColor": "#231f20", "gridWidth": 1, "gridOpacity": 1, "labelFontSize": 14, "labelColor": "#231f20", "titleFontSize": 14, "titleFontWeight": "normal", "titleColor": "#231f20", "titlePadding": 0, "labelOverlap": false, "labelBound": false, "labelFlush": false},
"axisX": {"labelPadding": 6},
"axisLeft": {"labelPadding": 9},
"axisRight": {"labelPadding": 7},
"title": {"anchor": "start", "frame": "group", "fontSize": 19, "fontWeight": "bold", "baseline": "bottom", "offset": 15, "lineHeight": 23, "color": "#231f20"},
"line": {"color": "#231f20", "strokeWidth": 2.8},
"text": {"color": "#231f20", "fontSize": 14},
"rule": {"color": "#231f20"}
}
}
